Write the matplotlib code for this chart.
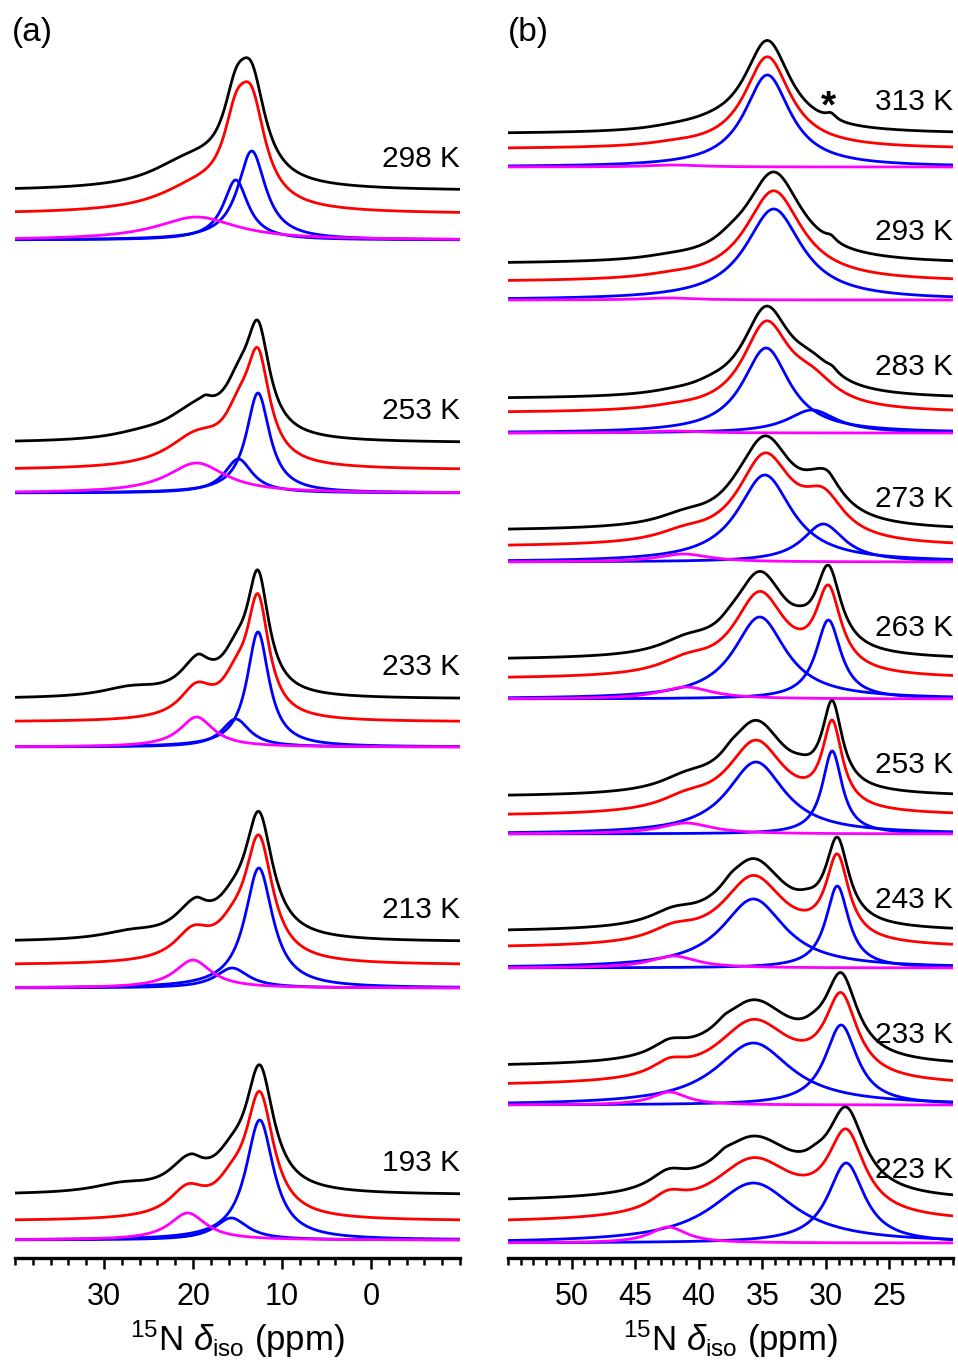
import matplotlib
matplotlib.use("Agg")
import matplotlib.pyplot as plt
import numpy as np
from matplotlib.ticker import MultipleLocator, FixedLocator

plt.rcParams['font.family'] = ['Liberation Sans', 'DejaVu Sans']
plt.rcParams['mathtext.fontset'] = 'custom'
plt.rcParams['mathtext.rm'] = 'Liberation Sans'
plt.rcParams['mathtext.it'] = 'Liberation Sans:italic'

# ---- data: fitted lines (center ppm, fwhm ppm, height) ----
temps_a = ['298 K', '253 K', '233 K', '213 K', '193 K']
blue_a = [
    [(13.4, 3.8, 89), (15.2, 3.4, 60)],
    [(12.7, 3.2, 100), (14.9, 3.8, 34)],
    [(12.7, 3.0, 115), (15.2, 3.8, 28)],
    [(12.6, 3.8, 120), (15.6, 4.5, 20)],
    [(12.5, 3.8, 120), (15.7, 4.5, 22)],
]
magenta_a = [(19.6, 11.0, 23), (19.6, 8.0, 30), (19.6, 4.6, 30), (20.0, 5.0, 28), (20.6, 5.0, 27)]
# extra intensity seen only in the measured (black) spectra
extra_a = [
    [(22.0, 8.0, 5)],
    [(18.6, 1.5, 5), (26.0, 8.0, 4)],
    [(19.3, 1.5, 3), (27.0, 8.0, 9)],
    [(19.5, 1.5, 3), (27.0, 8.0, 7)],
    [(20.0, 1.5, 2), (28.0, 8.0, 8)],
]

temps_b = ['313 K', '293 K', '283 K', '273 K', '263 K', '253 K', '243 K', '233 K', '223 K']
blue_b = [
    [(34.6, 4.4, 92)],
    [(34.1, 5.4, 91)],
    [(34.7, 4.5, 85), (31.1, 4.7, 23)],
    [(34.8, 5.2, 87), (30.2, 4.0, 38)],
    [(35.2, 5.0, 82), (29.8, 2.4, 79)],
    [(35.5, 5.5, 72), (29.5, 1.9, 83)],
    [(35.7, 6.0, 69), (29.1, 2.2, 82)],
    [(35.7, 7.2, 62), (28.8, 3.1, 80)],
    [(35.7, 8.0, 60), (28.4, 3.5, 80)],
]
magenta_b = [(42.0, 5.0, 2), (42.4, 5.0, 2), (42.0, 5.0, 2), (41.2, 5.0, 8), (41.0, 5.0, 12),
             (41.0, 5.0, 11), (42.0, 4.5, 12), (42.3, 3.4, 13), (42.4, 3.5, 16)]
extra_b = [
    [(29.6, 1.0, 6), (39.0, 6.0, 4)],
    [(29.6, 1.0, 5), (37.5, 3.0, 5)],
    [(29.5, 1.0, 4), (39.0, 4.0, 4)],
    [(29.8, 1.2, 4), (37.0, 3.0, 3)],
    [(37.5, 2.0, 4), (32.0, 2.0, 4)],
    [(37.5, 1.5, 4), (32.0, 2.0, 4)],
    [(37.5, 1.5, 4), (31.5, 2.0, 5)],
    [(38.0, 1.5, 4), (31.0, 2.0, 5)],
    [(38.0, 1.5, 4), (30.8, 2.0, 6)],
]

# ---- layout: baseline levels (fit, red, black), in pixel-like units above the axis ----
base_a = [(1018, 1044, 1067), (765, 788, 815), (511, 536, 559), (270, 293, 316), (18, 37, 63)]
base_b = [(1091, 1109, 1124), (958, 976, 994), (825, 845, 859), (696, 711, 727), (559, 579, 598),
          (424, 442, 461), (290, 310, 326), (153, 172, 191), (15, 35, 56)]


def lorentz(x, c, w, h):
    return h / (1 + ((x - c) / (w / 2)) ** 2)


def draw_panel(ax, x, temps, blues, mags, extras, bases):
    for i, t in enumerate(temps):
        b0, b1, b2 = bases[i]
        comps = [lorentz(x, *p) for p in blues[i]]
        mag = lorentz(x, *mags[i])
        fit = sum(comps) + mag
        exp = fit + sum(lorentz(x, *p) for p in extras[i])
        ax.plot(x, exp + b2, color='black', lw=2.0)
        ax.plot(x, fit + b1, color='#ff0000', lw=2.0)
        for c in comps:
            ax.plot(x, c + b0, color='#0000ff', lw=2.0)
        ax.plot(x, mag + b0, color='#ff00ff', lw=2.0)
        ax.text(1.0, b2 + 32, t, transform=ax.get_yaxis_transform(),
                ha='right', va='center', fontsize=21.5)


def style_axis(ax):
    for s in ['left', 'right', 'top']:
        ax.spines[s].set_visible(False)
    ax.spines['bottom'].set_linewidth(2.4)
    ax.set_yticks([])
    ax.set_ylim(0, 1258)
    ax.tick_params(axis='x', which='major', length=8, width=1.8, labelsize=22, pad=9)
    ax.tick_params(axis='x', which='minor', length=5, width=1.8)
    ax.set_xlabel(r'$^{15}$N $\delta_{\mathrm{iso}}$ (ppm)', fontsize=25, labelpad=5)


fig = plt.figure(figsize=(9.58, 13.61), dpi=100)
W, H = 958, 1361
ax_a = fig.add_axes([15 / W, (H - 1258) / H, 445 / W, 1258 / H])
ax_b = fig.add_axes([508 / W, (H - 1258) / H, 445 / W, 1258 / H])

xa = np.linspace(40, -10, 1200)
draw_panel(ax_a, xa, temps_a, blue_a, magenta_a, extra_a, base_a)
ax_a.set_xlim(40, -10)
ax_a.xaxis.set_major_locator(FixedLocator([30, 20, 10, 0]))
ax_a.xaxis.set_minor_locator(MultipleLocator(2))
style_axis(ax_a)

xb = np.linspace(55, 20, 1200)
draw_panel(ax_b, xb, temps_b, blue_b, magenta_b, extra_b, base_b)
ax_b.set_xlim(55, 20)
ax_b.xaxis.set_major_locator(FixedLocator([50, 45, 40, 35, 30, 25]))
ax_b.xaxis.set_minor_locator(MultipleLocator(1))
style_axis(ax_b)
ax_b.text(29.8, 1151, '*', ha='center', va='center', fontsize=28, fontweight='bold')

fig.text(12 / W, 1 - 32 / H, '(a)', fontsize=24, ha='left', va='center')
fig.text(508 / W, 1 - 32 / H, '(b)', fontsize=24, ha='left', va='center')

fig.savefig('out.png', dpi=100)
